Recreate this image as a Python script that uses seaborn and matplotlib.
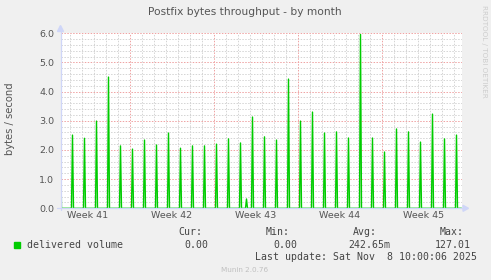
import numpy as np
import pandas as pd
import matplotlib
matplotlib.use("Agg")
import matplotlib.pyplot as plt
from matplotlib.patches import Polygon, Rectangle
from matplotlib.lines import Line2D
import seaborn as sns

# ==============================================================================
# DADOS
# ==============================================================================
# um pico por dia, em horas a partir da borda esquerda (amostras de 2h)
peak_hours = [0, 24, 48, 72, 96, 120, 144, 168, 192, 216, 240, 264, 288, 312,
              336, 360, 372, 384, 408, 432, 456, 480, 504, 528, 552, 576, 600,
              624, 648, 672, 696, 720, 744, 768, 792]
peak_values = [2.40, 2.51, 2.40, 2.99, 4.50, 2.14, 2.03, 2.34, 2.17, 2.58,
               2.06, 2.14, 2.14, 2.20, 2.38, 2.24, 0.32, 3.13, 2.45, 2.34,
               4.43, 2.99, 3.30, 2.58, 2.62, 2.41, 5.96, 2.41, 1.93, 2.72,
               2.62, 2.27, 3.23, 2.38, 2.51]
sample_step_h = 2
span_h = 803

week_start_h = [139, 307, 475, 643]
week_labels = ["Week 41", "Week 42", "Week 43", "Week 44", "Week 45"]
first_midnight_h = 19

y_ticks = [0.0, 1.0, 2.0, 3.0, 4.0, 5.0, 6.0]

legend_name = "delivered volume"
stat_names = ["Cur:", "Min:", "Avg:", "Max:"]
stat_values = ["0.00", "0.00", "242.65m", "127.01"]
last_update = "Last update: Sat Nov  8 10:00:06 2025"

# ==============================================================================
# ESTILO
# ==============================================================================
W, H = 491, 280
BACK = "#F0F0F0"
AXIS = "#CFD6F8"
LINE = "#00CC00"
FONT = "#555555"
GRID = "#D4D4D4"
MGRID = "#EFA2A2"

sns.set_theme(style="white")
plt.rcParams["font.family"] = ["DejaVu Sans"]


def fx(x):
    return x / W


def fy(y):
    return 1 - y / H


hours = np.arange(0, span_h, sample_step_h)
values = np.zeros(len(hours))
for h, v in zip(peak_hours, peak_values):
    values[hours == h] = v
df = pd.DataFrame({"hora": hours, "valor": values})

fig = plt.figure(figsize=(W / 100, H / 100), dpi=100, facecolor=BACK)
ax = fig.add_axes([fx(60.5), fy(208.3), fx(462) - fx(60.5), fy(33.3) - fy(208.3)])
ax.set_facecolor("white")
for s in ax.spines.values():
    s.set_visible(False)

ax.set_xlim(0, span_h)
ax.set_ylim(0, 6.0)

# grade
dots = (0, (1.5, 1.5))
for y in np.arange(0.2, 6.01, 0.2):
    if abs(y - round(y)) > 1e-6:
        ax.axhline(y, color=GRID, lw=0.7, ls=dots, zorder=0)
for y in y_ticks[1:]:
    ax.axhline(y, color=MGRID, lw=0.7, ls=dots, zorder=0)
for d in range(first_midnight_h, span_h, 24):
    if d not in week_start_h:
        ax.axvline(d, color=GRID, lw=0.7, ls=dots, zorder=0)
for d in week_start_h:
    ax.axvline(d, color=MGRID, lw=0.7, ls=dots, zorder=0)

sns.lineplot(data=df, x="hora", y="valor", ax=ax, color=LINE, lw=1.0, zorder=3)

week_centers = [week_start_h[0] - 84] + [w + 84 for w in week_start_h]
ax.set_xticks(week_centers)
ax.set_xticklabels(week_labels)
ax.set_yticks(y_ticks)
ax.set_yticklabels([f"{v:.1f}" for v in y_ticks])
ax.tick_params(axis="x", length=0, pad=2.2, labelsize=6.8, labelcolor=FONT)
ax.tick_params(axis="y", length=0, pad=4.5, labelsize=6.8, labelcolor=FONT)
ax.set_xlabel("")
ax.set_ylabel("")

# eixos com setas
fig.add_artist(Line2D([fx(60.5), fx(60.5)], [fy(210), fy(30)], color=AXIS, lw=0.9))
fig.add_artist(Line2D([fx(57), fx(464)], [fy(208.3), fy(208.3)], color=AXIS, lw=0.9, zorder=1))
fig.add_artist(Polygon([[fx(57.5), fy(31.5)], [fx(63.5), fy(31.5)], [fx(60.5), fy(25.5)]],
                       closed=True, color=AXIS))
fig.add_artist(Polygon([[fx(463), fy(205.3)], [fx(463), fy(211.3)], [fx(468.5), fy(208.3)]],
                       closed=True, color=AXIS))

# textos
fig.text(fx(245), fy(12), "Postfix bytes throughput - by month", ha="center", va="center",
         fontsize=7.7, color=FONT)
fig.text(fx(10), fy(119), "bytes / second", rotation=90, ha="center", va="center",
         fontsize=7.2, color=FONT)
fig.text(fx(484), fy(5), "RRDTOOL / TOBI OETIKER", rotation=270, ha="center", va="top",
         fontsize=5.2, color="#CDCDCD")

mono = "DejaVu Sans Mono"
fig.add_artist(Rectangle((fx(14), fy(248)), 6 / W, 6 / H, color=LINE))
fig.text(fx(27), fy(244.7), legend_name, ha="left", va="center", family=mono, fontsize=7.1, color="#444444")
stat_right = [202, 290, 377, 464]
value_right = [208, 297, 390, 471]
for name, val, rn, rv in zip(stat_names, stat_values, stat_right, value_right):
    fig.text(fx(rn), fy(232), name, ha="right", va="center", family=mono, fontsize=7.1, color="#444444")
    fig.text(fx(rv), fy(244.7), val, ha="right", va="center", family=mono, fontsize=7.1, color="#444444")
fig.text(fx(477), fy(256.7), last_update, ha="right", va="center", family=mono, fontsize=7.1, color="#444444")
fig.text(fx(245), fy(270.5), "Munin 2.0.76", ha="center", va="center", fontsize=5.2, color="#C0C0C0")

fig.savefig("out.png", dpi=100, facecolor=BACK)
